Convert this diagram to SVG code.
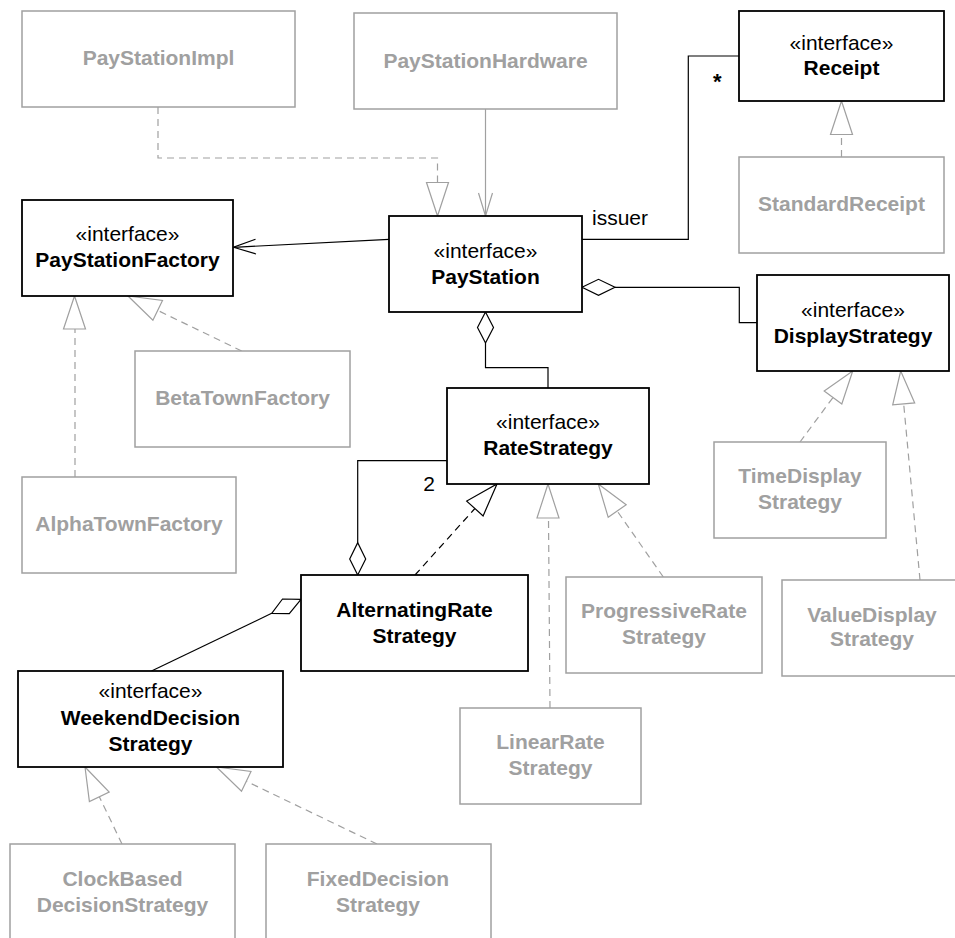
<svg xmlns="http://www.w3.org/2000/svg" width="955" height="938" viewBox="0 0 955 938">
<style>
text{font-family:"Liberation Sans",Arial,sans-serif;font-size:21px;text-anchor:middle}
.st{fill:#000}
.nm{fill:#000;font-weight:bold}
.gn{fill:#a0a0a0;font-weight:bold}
.bb{fill:#fff;stroke:#000;stroke-width:1.8}
.gb{fill:#fff;stroke:#a0a0a0;stroke-width:1.5}
.ln{fill:none;stroke:#000;stroke-width:1.2}
.gl{fill:none;stroke:#a0a0a0;stroke-width:1.2}
.gd{fill:none;stroke:#a0a0a0;stroke-width:1.2;stroke-dasharray:7,5}
.bd{fill:none;stroke:#000;stroke-width:1.2;stroke-dasharray:7,5}
.gt{fill:#fff;stroke:#a0a0a0;stroke-width:1.2}
.bt{fill:#fff;stroke:#000;stroke-width:1.2}
.lb{text-anchor:start}
</style>
<g id="connectors">
<!-- PayStationImpl realizes PayStation -->
<path class="gd" d="M158,107 V158 H437.5 V182.5"/>
<polygon class="gt" points="426.5,182.5 448.5,182.5 437.5,216"/>
<!-- PayStationHardware uses PayStation -->
<path class="gl" d="M485.5,109 V216"/>
<polyline class="gl" points="478.5,193 485.5,216 492.5,193"/>
<!-- PayStation -> PayStationFactory -->
<path class="ln" d="M389,239.3 L233.5,247.3"/>
<polyline class="ln" points="255.5,239.2 233.5,247.3 256,254"/>
<!-- issuer association to Receipt -->
<path class="ln" d="M582,239.3 H688.3 V56 H739"/>
<text class="st lb" x="592" y="225">issuer</text>
<text class="nm lb" x="713" y="89" style="font-size:22px">*</text>
<!-- StandardReceipt realizes Receipt -->
<path class="gd" d="M841.5,157 V134.5"/>
<polygon class="gt" points="841.5,101 830.5,134.5 852.5,134.5"/>
<!-- PayStation aggregates DisplayStrategy -->
<polygon class="bt" points="582,287.3 598.5,279.3 615,287.3 598.5,295.3"/>
<path class="ln" d="M615,287.3 H739.3 V322.7 H757"/>
<!-- PayStation aggregates RateStrategy -->
<polygon class="bt" points="485.5,312 477.5,327.5 485.5,343 493.5,327.5"/>
<path class="ln" d="M485.5,343 V367.7 H548 V388"/>
<!-- AlphaTownFactory realizes PayStationFactory -->
<path class="gd" d="M75,477 V329"/>
<polygon class="gt" points="74.5,296 63.5,329 85.5,329"/>
<!-- BetaTownFactory realizes PayStationFactory -->
<path class="gd" d="M241.7,351 L157.7,310.4"/>
<polygon class="gt" points="128,296 152.9,320.3 162.5,300.5"/>
<!-- AlternatingRate aggregates RateStrategy (2) -->
<polygon class="bt" points="357.7,575 349.7,559 357.7,542.7 365.7,559"/>
<path class="ln" d="M357.7,542.7 V460.7 H447"/>
<text class="st" x="429" y="491">2</text>
<!-- AlternatingRate realizes RateStrategy -->
<path class="bd" d="M415,575 L474.9,508.5"/>
<polygon class="bt" points="497,484 483.1,515.9 466.7,501.1"/>
<!-- LinearRate realizes RateStrategy -->
<path class="gd" d="M550,708 L548.5,518"/>
<polygon class="gt" points="548,484 537,518 559,518"/>
<!-- ProgressiveRate realizes RateStrategy -->
<path class="gd" d="M663.3,577 L617.2,511"/>
<polygon class="gt" points="598.3,484 626.2,504.7 608.2,517.3"/>
<!-- TimeDisplay realizes DisplayStrategy -->
<path class="gd" d="M800,442 L833,397.5"/>
<polygon class="gt" points="852.7,371 841.8,404 824.2,391"/>
<!-- ValueDisplay realizes DisplayStrategy -->
<path class="gd" d="M920,580 L903.7,404"/>
<polygon class="gt" points="900.7,371 914.7,402.9 892.7,404.9"/>
<!-- WeekendDecision aggregated by AlternatingRate -->
<polygon class="bt" points="301,599.3 289.3,613.6 271.7,613.3 282.5,599"/>
<path class="ln" d="M271.7,613.3 L151.5,671"/>
<!-- ClockBased realizes WeekendDecision -->
<path class="gd" d="M122,844 L99.3,796.7"/>
<polygon class="gt" points="85,767 109.2,792 89.4,801.5"/>
<!-- FixedDecision realizes WeekendDecision -->
<path class="gd" d="M377,844 L246.3,781.3"/>
<polygon class="gt" points="216.5,767 251,771.4 241.5,791.2"/>
</g>
<g id="PayStationImpl">
<rect class="gb" x="22" y="11" width="273" height="96"/>
<text class="gn" x="158.5" y="65">PayStationImpl</text>
</g>
<g id="PayStationHardware">
<rect class="gb" x="354" y="13" width="263" height="96"/>
<text class="gn" x="485.5" y="67.5">PayStationHardware</text>
</g>
<g id="PayStationFactory">
<rect class="bb" x="22" y="200" width="211" height="96"/>
<text class="st" x="127.5" y="240.7">«interface»</text>
<text class="nm" x="127.5" y="266.7">PayStationFactory</text>
</g>
<g id="PayStation">
<rect class="bb" x="389" y="216" width="193" height="96"/>
<text class="st" x="485.5" y="258">«interface»</text>
<text class="nm" x="485.5" y="283.5">PayStation</text>
</g>
<g id="Receipt">
<rect class="bb" x="739" y="11" width="205" height="90"/>
<text class="st" x="841.5" y="50">«interface»</text>
<text class="nm" x="841.5" y="75">Receipt</text>
</g>
<g id="StandardReceipt">
<rect class="gb" x="739" y="157" width="205" height="96"/>
<text class="gn" x="841.5" y="210.7">StandardReceipt</text>
</g>
<g id="DisplayStrategy">
<rect class="bb" x="757" y="275" width="192" height="96"/>
<text class="st" x="853" y="317">«interface»</text>
<text class="nm" x="853" y="343">DisplayStrategy</text>
</g>
<g id="BetaTownFactory">
<rect class="gb" x="135" y="351" width="215" height="96"/>
<text class="gn" x="242.5" y="405">BetaTownFactory</text>
</g>
<g id="AlphaTownFactory">
<rect class="gb" x="22" y="477" width="214" height="96"/>
<text class="gn" x="129" y="531">AlphaTownFactory</text>
</g>
<g id="RateStrategy">
<rect class="bb" x="447" y="388" width="202" height="96"/>
<text class="st" x="548" y="428.5">«interface»</text>
<text class="nm" x="548" y="455">RateStrategy</text>
</g>
<g id="TimeDisplayStrategy">
<rect class="gb" x="714" y="442" width="172" height="96"/>
<text class="gn" x="800" y="483.3">TimeDisplay</text>
<text class="gn" x="800" y="509.3">Strategy</text>
</g>
<g id="AlternatingRateStrategy">
<rect class="bb" x="301" y="575" width="227" height="96"/>
<text class="nm" x="414.5" y="616.5">AlternatingRate</text>
<text class="nm" x="414.5" y="642.5">Strategy</text>
</g>
<g id="ProgressiveRateStrategy">
<rect class="gb" x="566" y="577" width="196" height="96"/>
<text class="gn" x="664" y="618.3">ProgressiveRate</text>
<text class="gn" x="664" y="644">Strategy</text>
</g>
<g id="ValueDisplayStrategy">
<rect class="gb" x="782" y="580" width="180" height="96"/>
<text class="gn" x="872" y="621.7">ValueDisplay</text>
<text class="gn" x="872" y="646">Strategy</text>
</g>
<g id="WeekendDecisionStrategy">
<rect class="bb" x="18" y="671" width="265" height="96"/>
<text class="st" x="150.5" y="698.3">«interface»</text>
<text class="nm" x="150.5" y="725">WeekendDecision</text>
<text class="nm" x="150.5" y="750.7">Strategy</text>
</g>
<g id="LinearRateStrategy">
<rect class="gb" x="460" y="708" width="181" height="96"/>
<text class="gn" x="550.5" y="749.3">LinearRate</text>
<text class="gn" x="550.5" y="775">Strategy</text>
</g>
<g id="ClockBasedDecisionStrategy">
<rect class="gb" x="10" y="844" width="225" height="96"/>
<text class="gn" x="122.5" y="886">ClockBased</text>
<text class="gn" x="122.5" y="911.7">DecisionStrategy</text>
</g>
<g id="FixedDecisionStrategy">
<rect class="gb" x="266" y="844" width="225" height="96"/>
<text class="gn" x="378" y="886">FixedDecision</text>
<text class="gn" x="378" y="911.7">Strategy</text>
</g>
</svg>
